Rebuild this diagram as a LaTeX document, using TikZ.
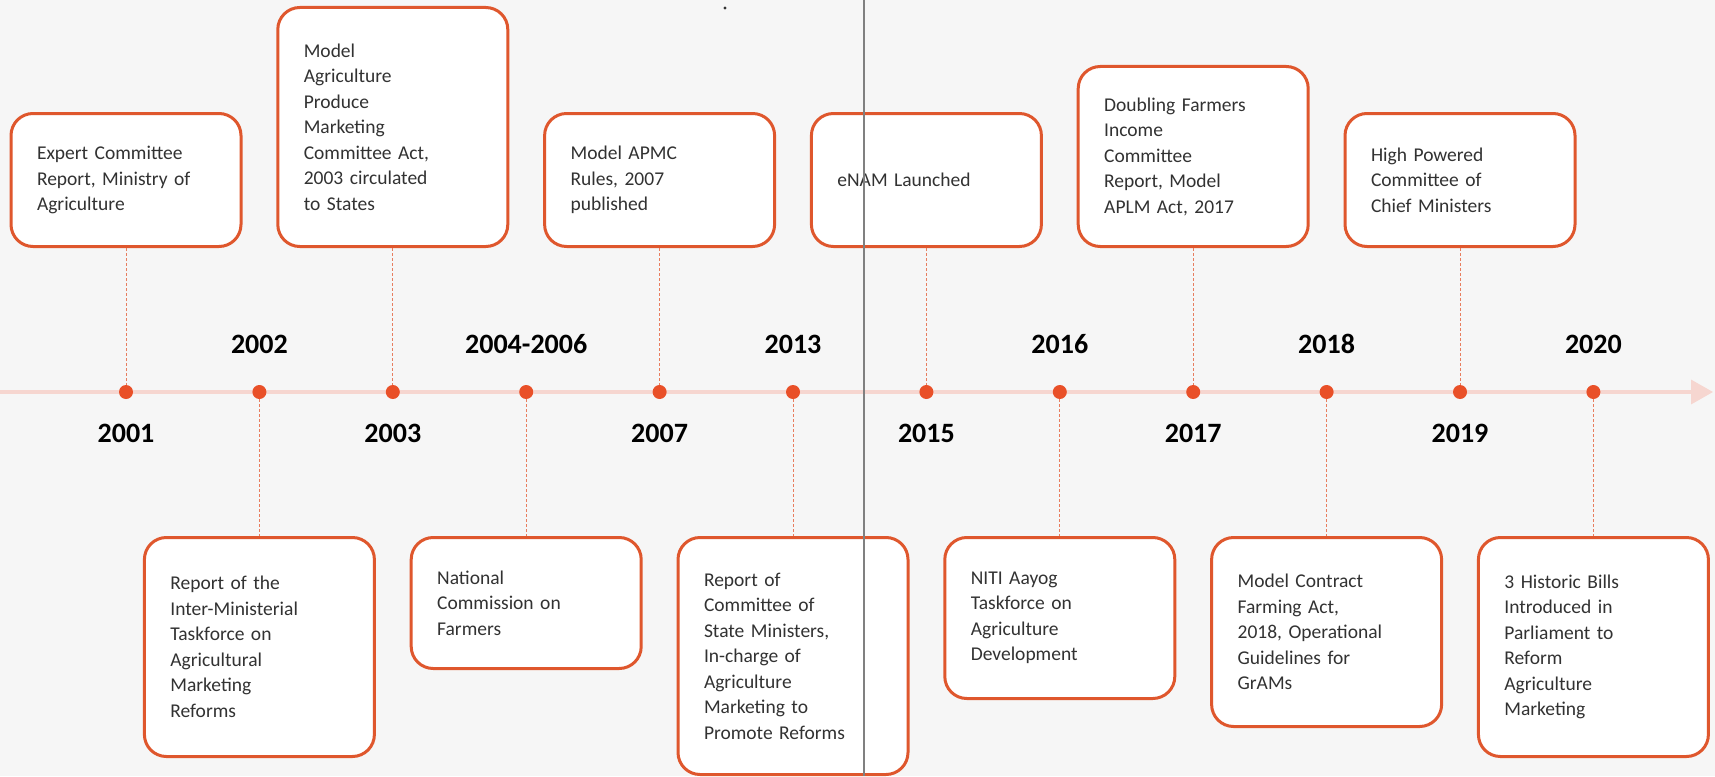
\documentclass[tikz,border=0pt]{standalone}
\usepackage{fontspec}
\setmainfont{Carlito}
\usetikzlibrary{positioning,arrows.meta}
\definecolor{boxorange}{RGB}{223,87,45}
\definecolor{dotorange}{RGB}{233,80,40}
\definecolor{linkorange}{RGB}{232,125,95}
\definecolor{axispink}{RGB}{246,214,208}
\definecolor{paper}{RGB}{246,246,246}
\definecolor{ink}{RGB}{50,50,50}

\begin{document}
\begin{tikzpicture}[x=1pt,y=-1pt,node distance=119.4pt,
dot/.style={
  circle,
  fill=dotorange,
  minimum size=14pt,
  inner sep=0pt,
  outer sep=0pt},
year/.style={
  font={\bfseries\fontsize{28pt}{30pt}\selectfont},
  inner sep=0pt},
event/.style={
  draw=boxorange,
  line width=3pt,
  fill=white,
  rounded corners=22pt,
  font={\color{ink}\fontsize{19.5pt}{25.5pt}\selectfont},
  align=left,
  text width=178pt,
  inner xsep=26pt,
  inner ysep=0pt},
link/.style={
  linkorange,
  line width=1pt,
  dash pattern=on 3pt off 2pt},
timeline/.style={
  axispink,
  line width=3.5pt,
  -{Triangle[length=22pt,width=24pt]}},
]

\useasboundingbox (0,0) rectangle (1715,776);
\fill[paper] (0,0) rectangle (1715,776);

\coordinate (axisstart) at (0,392);
\coordinate (axisend) at (1713,392);
\draw[timeline] (axisstart) -- (axisend);

\node[dot] (d1) at (126,392) {};
\node[dot,right=of d1] (d2) {};
\node[dot,right=of d2] (d3) {};
\node[dot,right=of d3] (d4) {};
\node[dot,right=of d4] (d5) {};
\node[dot,right=of d5] (d6) {};
\node[dot,right=of d6] (d7) {};
\node[dot,right=of d7] (d8) {};
\node[dot,right=of d8] (d9) {};
\node[dot,right=of d9] (d10) {};
\node[dot,right=of d10] (d11) {};
\node[dot,right=of d11] (d12) {};

% years
\node[year,below=25pt of d1] (y2001) {2001};
\node[year,above=31pt of d2] (y2002) {2002};
\node[year,below=25pt of d3] (y2003) {2003};
\node[year,above=31pt of d4] (y2004) {2004-2006};
\node[year,below=25pt of d5] (y2007) {2007};
\node[year,above=31pt of d6] (y2013) {2013};
\node[year,below=25pt of d7] (y2015) {2015};
\node[year,above=31pt of d8] (y2016) {2016};
\node[year,below=25pt of d9] (y2017) {2017};
\node[year,above=31pt of d10] (y2018) {2018};
\node[year,below=25pt of d11] (y2019) {2019};
\node[year,above=31pt of d12] (y2020) {2020};

% events above the line
\node[event,minimum height=133pt,above=137pt of d1] (expert)
{Expert Committee\\Report, Ministry of\\Agriculture};
\node[event,minimum height=239pt,above=137pt of d3] (modelact)
{Model\\Agriculture\\Produce\\Marketing\\Committee Act,\\2003 circulated\\to States};
\node[event,minimum height=133pt,above=137pt of d5] (apmc)
{Model APMC\\Rules, 2007\\published};
\node[event,minimum height=133pt,above=137pt of d7] (enam)
{eNAM Launched};
\node[event,minimum height=180pt,above=137pt of d9] (doubling)
{Doubling Farmers\\Income\\Committee\\Report, Model\\APLM Act, 2017};
\node[event,minimum height=133pt,above=137pt of d11] (highpower)
{High Powered\\Committee of\\Chief Ministers};

% events below the line
\node[event,minimum height=219pt,below=137pt of d2] (taskforce)
{Report of the\\Inter-Ministerial\\Taskforce on\\Agricultural\\Marketing\\Reforms};
\node[event,minimum height=131pt,below=137pt of d4] (commission)
{National\\Commission on\\Farmers};
\node[event,minimum height=237pt,below=137pt of d6] (stateministers)
{Report of\\Committee of\\State Ministers,\\In-charge of\\Agriculture\\Marketing to\\Promote Reforms};
\node[event,minimum height=161pt,below=137pt of d8] (niti)
{NITI Aayog\\Taskforce on\\Agriculture\\Development};
\node[event,minimum height=189pt,below=137pt of d10] (contract)
{Model Contract\\Farming Act,\\2018, Operational\\Guidelines for\\GrAMs};
\node[event,minimum height=219pt,below=137pt of d12] (bills)
{3 Historic Bills\\Introduced in\\Parliament to\\Reform\\Agriculture\\Marketing};

\draw[link] (expert) -- (d1);
\draw[link] (modelact) -- (d3);
\draw[link] (apmc) -- (d5);
\draw[link] (enam) -- (d7);
\draw[link] (doubling) -- (d9);
\draw[link] (highpower) -- (d11);
\draw[link] (d2) -- (taskforce);
\draw[link] (d4) -- (commission);
\draw[link] (d6) -- (stateministers);
\draw[link] (d8) -- (niti);
\draw[link] (d10) -- (contract);
\draw[link] (d12) -- (bills);

% stray marks of the scan
\fill[black!80] (725,8) circle (1.6pt);
\draw[gray,line width=1.2pt] (864,0) -- (864,776);

\end{tikzpicture}
\end{document}
